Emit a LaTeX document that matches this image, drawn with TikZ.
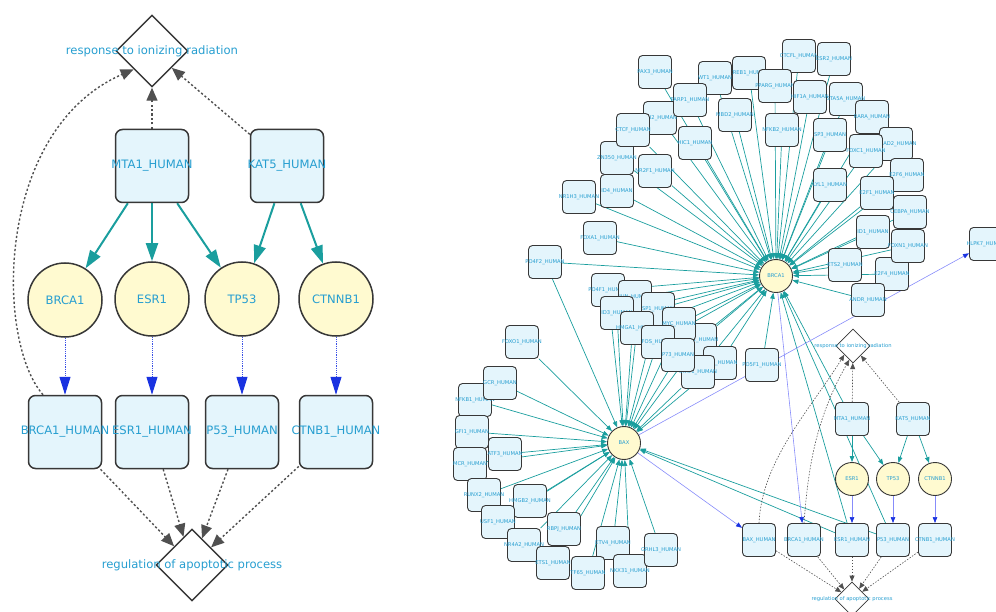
\documentclass[tikz,border=0pt]{standalone}
\usepackage{fontspec}
\setmainfont{DejaVu Sans}
\usetikzlibrary{arrows.meta,shapes.geometric,backgrounds}

\definecolor{labelblue}{RGB}{38,158,208}
\definecolor{protfill}{RGB}{228,245,252}
\definecolor{genefill}{RGB}{255,250,208}
\definecolor{nodeline}{RGB}{55,55,55}
\definecolor{tfteal}{RGB}{26,158,158}
\definecolor{exprblue}{RGB}{25,50,225}
\definecolor{linkblue}{RGB}{135,140,250}
\definecolor{godark}{RGB}{80,80,80}

\tikzset{
  nowidth/.style={execute at begin node={\hbox to 0pt\bgroup\hss}, execute at end node={\hss\egroup}},
  protbox/.style={draw=nodeline, line width=1.5pt, rounded corners=7pt, fill=protfill, minimum width=73pt, minimum height=73pt, inner sep=0pt, text=labelblue, font=\fontsize{11.6}{14}\selectfont, nowidth},
  genecirc/.style={circle, draw=nodeline, line width=1.5pt, fill=genefill, minimum size=74pt, inner sep=0pt, text=labelblue, font=\fontsize{11.6}{14}\selectfont, nowidth},
  goterm/.style={diamond, draw=nodeline, line width=1.4pt, fill=white, minimum width=72pt, minimum height=72pt, inner sep=0pt},
  golabel/.style={text=labelblue, font=\fontsize{11.6}{14}\selectfont, inner sep=0pt},
  tfarrow/.style={tfteal, line width=2pt, -{Triangle[length=18pt,width=12pt]}},
  exprarrow/.style={exprblue!85!white, line width=1pt, dash pattern=on 1.2pt off 1pt, -{Triangle[length=18pt,width=11pt,color=exprblue]}},
  goarrow/.style={godark, line width=1.4pt, dash pattern=on 2.2pt off 2.2pt, -{Triangle[length=13pt,width=11pt]}},
  % smaller versions for the network
  sbox/.style={protbox, line width=0.9pt, rounded corners=4pt, minimum width=33pt, minimum height=33pt, font=\fontsize{5.2}{6}\selectfont},
  scirc/.style={genecirc, line width=0.9pt, minimum size=33pt, font=\fontsize{5.2}{6}\selectfont},
  sterm/.style={goterm, line width=0.8pt, minimum width=34pt, minimum height=34pt},
  slabel/.style={golabel, font=\fontsize{5.2}{6}\selectfont},
  stf/.style={tfteal, line width=0.7pt, -{Triangle[length=6pt,width=4.5pt]}},
  slink/.style={linkblue, line width=0.6pt, -{Triangle[length=6pt,width=4.5pt,color=exprblue]}},
  sgo/.style={godark, line width=0.6pt, dash pattern=on 1.5pt off 1.5pt, -{Triangle[length=6pt,width=5pt]}}
}

\begin{document}
\begin{tikzpicture}[x=1pt, y=-1pt]
  \useasboundingbox (0,0) rectangle (996,612);

  % summary on the left
  \node[goterm, label={[golabel]center:response to ionizing radiation}] (ionrad) at (152,51) {};
  \node[protbox] (mta1) at (152,166) {MTA1\_HUMAN};
  \node[protbox] (kat5) at (287,166) {KAT5\_HUMAN};
  \node[genecirc] (brca1) at (65,300) {BRCA1};
  \node[genecirc] (esr1) at (152,299) {ESR1};
  \node[genecirc] (tp53) at (242,299) {TP53};
  \node[genecirc] (ctnnb1) at (336,299) {CTNNB1};
  \node[protbox] (brca1p) at (65,432) {BRCA1\_HUMAN};
  \node[protbox] (esr1p) at (152,432) {ESR1\_HUMAN};
  \node[protbox] (p53p) at (242,432) {P53\_HUMAN};
  \node[protbox] (ctnb1p) at (336,432) {CTNB1\_HUMAN};
  \node[goterm, label={[golabel]center:regulation of apoptotic process}] (apopt) at (192,565) {};

  % network on the right
  \node[sterm, label={[slabel]center:response to ionizing radiation}] (ionradR) at (853,346) {};
  \node[sbox] (mta1R) at (852,419) {MTA1\_HUMAN};
  \node[sbox] (kat5R) at (913,419) {KAT5\_HUMAN};
  \node[scirc] (esr1R) at (852,479) {ESR1};
  \node[scirc] (tp53R) at (893,479) {TP53};
  \node[scirc] (ctnnb1R) at (935,479) {CTNNB1};
  \node[sbox] (baxp) at (759,540) {BAX\_HUMAN};
  \node[sbox] (brca1pR) at (804,540) {BRCA1\_HUMAN};
  \node[sbox] (esr1pR) at (852,540) {ESR1\_HUMAN};
  \node[sbox] (p53pR) at (893,540) {P53\_HUMAN};
  \node[sbox] (ctnb1pR) at (935,540) {CTNB1\_HUMAN};
  \node[sterm, label={[slabel]center:regulation of apoptotic process}] (apoptR) at (852,599) {};
  \node[sbox] (HLPK7) at (986,244) {HLPK7\_HUMAN};

  \foreach \tf/\px/\py in {NR1H3/579/197, ID4/617/191, ZN350/617/158, NR2F1/655/171,
      GLI2/660/118, PAX3/655/72, CREB1/749/73, WT1/715/78, PARP1/690/100, CTCF/633/130,
      HIC1/695/143, MBD2/735/115, CTCFL/799/56, ESR2/834/59, PPARG/775/86, HIF1A/810/97,
      NFKB2/782/130, STA5A/846/99, RARA/872/117, SMAD2/896/144, FOXC1/866/151, SP3/830/135,
      LYL1/830/185, E2F6/907/175, E2F1/877/193, CEBPA/910/212, ETS2/845/265, E2F4/892/274,
      ID1/873/232, FOXN1/908/246, ANDR/868/300, FOXA1/600/238, PO4F2/545/262, PO5F1/762/365,
      PO4F1/608/290, JUN/635/297, ID3/617/313, SP1/658/309, HMGA1/637/328, EGR1/700/340,
      KLF4/720/363, STAT1/698/372, MYC/679/324, FOS/658/342, P73/678/355,
      FOXO1/522/342, NFKB1/475/400, GCR/500/383, GFI1/472/432, ATF3/505/454, MCR/470/464,
      RUNX2/484/495, HMGB2/530/501, USF1/498/522, RBPJ/564/529, NR4A2/524/545, ETS1/553/563,
      ETV4/613/543, TF65/588/573, NKX31/630/571, GRHL3/661/550}
    \node[sbox] (\tf) at (\px,\py) {\tf\_HUMAN};

  \node[scirc] (brca1R) at (776,276) {BRCA1};
  \node[scirc] (bax) at (624,443) {BAX};

  \begin{scope}[on background layer]
    \draw[tfarrow] (mta1) -- (brca1);
    \draw[tfarrow] (mta1) -- (esr1);
    \draw[tfarrow] (mta1) -- (tp53);
    \draw[tfarrow] (kat5) -- (tp53);
    \draw[tfarrow] (kat5) -- (ctnnb1);
    \draw[exprarrow] (brca1) -- (brca1p);
    \draw[exprarrow] (esr1) -- (esr1p);
    \draw[exprarrow] (tp53) -- (p53p);
    \draw[exprarrow] (ctnnb1) -- (ctnb1p);
    \draw[goarrow] (mta1) -- (ionrad);
    \draw[goarrow] (kat5) -- (ionrad);
    \draw[goarrow] ([xshift=-22pt]brca1p.north) .. controls (-5,340) and (-5,130) .. (ionrad.south west);
    \foreach \p in {brca1p,esr1p,p53p,ctnb1p}
      \draw[goarrow] (\p) -- (apopt);

    \foreach \tf in {NR1H3, ID4, ZN350, NR2F1, GLI2, PAX3, CREB1, WT1, PARP1, CTCF, HIC1, MBD2,
        CTCFL, ESR2, PPARG, HIF1A, NFKB2, STA5A, RARA, SMAD2, FOXC1, SP3, LYL1, E2F6, E2F1,
        CEBPA, ETS2, E2F4, ID1, FOXN1, ANDR, FOXA1, PO4F2, PO5F1, PO4F1, JUN, ID3, SP1, HMGA1,
        EGR1, KLF4, STAT1, MYC, FOS, P73, mta1R, esr1pR, p53pR}
      \draw[stf] (\tf) -- (brca1R);
    \foreach \tf in {FOXO1, NFKB1, GCR, GFI1, ATF3, MCR, RUNX2, HMGB2, USF1, RBPJ, NR4A2, ETS1,
        ETV4, TF65, NKX31, GRHL3, PO4F2, PO4F1, JUN, ID3, SP1, HMGA1, EGR1, KLF4, STAT1, MYC,
        FOS, P73, esr1pR, p53pR}
      \draw[stf] (\tf) -- (bax);

    \draw[stf] (mta1R) -- (esr1R);
    \draw[stf] (mta1R) -- (tp53R);
    \draw[stf] (kat5R) -- (tp53R);
    \draw[stf] (kat5R) -- (ctnnb1R);
    \draw[slink] (esr1R) -- (esr1pR);
    \draw[slink] (tp53R) -- (p53pR);
    \draw[slink] (ctnnb1R) -- (ctnb1pR);
    \draw[slink] (brca1R) -- (brca1pR);
    \draw[slink] (bax) -- (baxp);
    \draw[slink] (bax) -- (HLPK7);
    \draw[sgo] (mta1R) -- (ionradR);
    \draw[sgo] (kat5R) -- (ionradR);
    \draw[sgo] (baxp.north) .. controls (762,460) and (810,410) .. (ionradR.south west);
    \draw[sgo] (brca1pR.north) .. controls (808,470) and (815,420) .. (ionradR.-105);
    \foreach \p in {baxp,brca1pR,esr1pR,p53pR,ctnb1pR}
      \draw[sgo] (\p) -- (apoptR);
  \end{scope}
\end{tikzpicture}
\end{document}
